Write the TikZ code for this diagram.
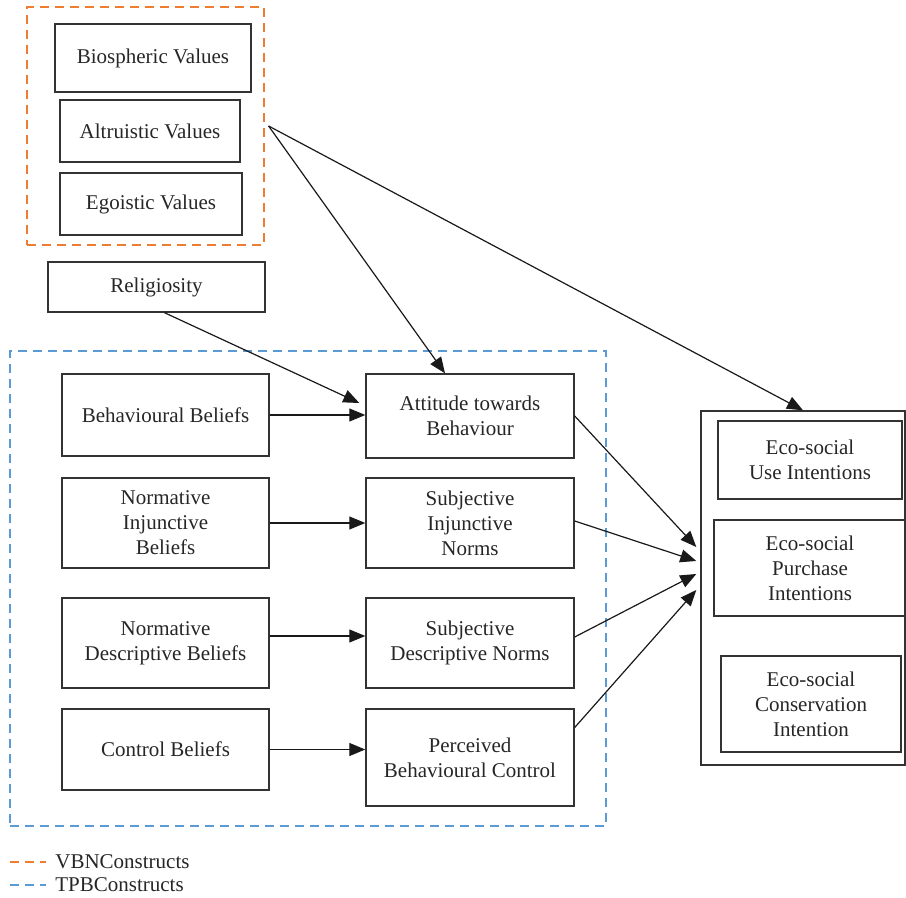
\documentclass[tikz,border=0pt]{standalone}
\usepackage{fontspec}
\setmainfont{Liberation Serif}
\usetikzlibrary{arrows.meta}

\definecolor{vbnorange}{RGB}{237,125,49}
\definecolor{tpbblue}{RGB}{91,155,213}

\tikzset{
    box/.style={draw=black!80, line width=0.7pt, align=center, inner sep=0pt,
        text=black!85, font=\fontsize{10.5}{12.5}\selectfont},
    link/.style={draw=black!90, line width=0.6pt, -{Triangle[length=8pt, width=6.5pt]}},
    vbnline/.style={draw=vbnorange, line width=0.6pt, dash pattern=on 4.5pt off 3pt},
    tpbline/.style={draw=tpbblue, line width=0.6pt, dash pattern=on 4.5pt off 3pt},
    keytext/.style={right, inner sep=0pt, text=black!85, font=\fontsize{10.5}{12.5}\selectfont}
}

\begin{document}
\begin{tikzpicture}[x=0.5pt, y=-0.5pt]
    \useasboundingbox (0,0) rectangle (906,898);

    % Draw the groups of constructs
    \node[vbnline, minimum width=118.5pt, minimum height=119pt] (vbn) at (145.5,126) {};
    \node[tpbline, minimum width=298pt, minimum height=237.5pt] (tpb) at (308,588.5) {};

    % Value boxes
    \node[box, minimum width=98pt, minimum height=34pt] (bio) at (153,58) {Biospheric Values};
    \node[box, minimum width=90pt, minimum height=31pt] (alt) at (150,131) {Altruistic Values};
    \node[box, minimum width=91pt, minimum height=31pt] (ego) at (151,204) {Egoistic Values};
    \node[box, minimum width=108.5pt, minimum height=25pt] (rel) at (156.5,287) {Religiosity};

    % Beliefs
    \node[box, minimum width=103.5pt, minimum height=41pt] (bb) at (165.5,415) {Behavioural Beliefs};
    \node[box, minimum width=103.5pt, minimum height=45pt] (nib) at (165.5,523) {Normative\\Injunctive\\Beliefs};
    \node[box, minimum width=103.5pt, minimum height=45pt] (ndb) at (165.5,643) {Normative\\Descriptive Beliefs};
    \node[box, minimum width=103.5pt, minimum height=40.5pt] (cb) at (165.5,749.5) {Control Beliefs};

    % Attitude, norms and control
    \node[box, minimum width=104pt, minimum height=42pt] (att) at (470,416) {Attitude towards\\Behaviour};
    \node[box, minimum width=104pt, minimum height=45pt] (sin) at (470,523) {Subjective\\Injunctive\\Norms};
    \node[box, minimum width=104pt, minimum height=45pt] (sdn) at (470,643) {Subjective\\Descriptive Norms};
    \node[box, minimum width=104pt, minimum height=48.5pt] (pbc) at (470,757.5) {Perceived\\Behavioural Control};

    % Intentions
    \node[box, minimum width=102pt, minimum height=177pt] (intent) at (803,588) {};
    \node[box, minimum width=92pt, minimum height=39pt] (use) at (810,460) {Eco-social\\Use Intentions};
    \node[box, minimum width=96pt, minimum height=48pt] (pur) at (810,568) {Eco-social\\Purchase\\Intentions};
    \node[box, minimum width=90pt, minimum height=48pt] (con) at (811,704) {Eco-social\\Conservation\\Intention};

    % Arrows
    \draw[link] ([xshift=2pt]vbn.east) -- ([xshift=-12.5pt]att.north);
    \draw[link] ([xshift=2pt]vbn.east) -- (intent.north);
    \draw[link] ([xshift=4pt]rel.south) -- ([xshift=-3pt, yshift=6.5pt]att.west);
    \draw[link] (bb.east) -- (bb.east -| att.west);
    \draw[link] (nib.east) -- (nib.east -| sin.west);
    \draw[link] ([yshift=3.5pt]ndb.east) -- ([yshift=3.5pt]sdn.west);
    \draw[link] (cb.east) -- (cb.east -| pbc.west);
    \draw[link] (att.east) -- ([xshift=-2pt, yshift=20.5pt]intent.west);
    \draw[link] ([yshift=1pt]sin.east) -- ([xshift=-2pt, yshift=13.5pt]intent.west);
    \draw[link] ([yshift=3pt]sdn.east) -- ([xshift=-2pt, yshift=7pt]intent.west);
    \draw[link] ([yshift=15pt]pbc.east) -- ([xshift=-2pt, yshift=-1pt]intent.west);

    % Legend
    \node[keytext] (vbnkey) at (55,862) {VBNConstructs};
    \node[keytext] (tpbkey) at (55,885) {TPBConstructs};
    \draw[vbnline] ([xshift=-22.5pt]vbnkey.west) -- ([xshift=-4.5pt]vbnkey.west);
    \draw[tpbline] ([xshift=-22.5pt]tpbkey.west) -- ([xshift=-4.5pt]tpbkey.west);
\end{tikzpicture}
\end{document}
